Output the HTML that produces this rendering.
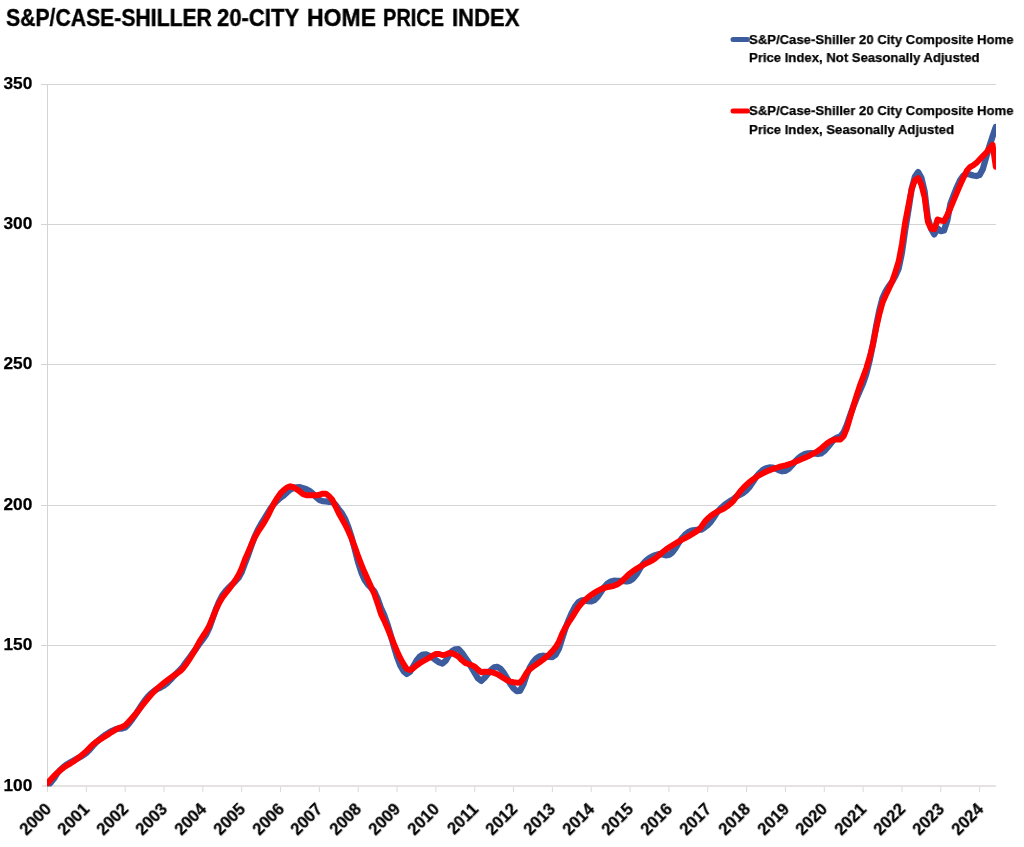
<!DOCTYPE html>
<html><head><meta charset="utf-8"><style>
html,body{margin:0;padding:0;background:#fff;}
body{width:1024px;height:847px;overflow:hidden;position:relative;font-family:"Liberation Sans",sans-serif;font-weight:bold;color:#000;}
.t,.lg,.yl,.xl{will-change:transform;-webkit-text-stroke:0.25px #000;}
.t{-webkit-text-stroke:0.4px #000;}
.t{position:absolute;left:6px;top:3.2px;font-size:24.6px;line-height:30px;white-space:nowrap;transform-origin:0 0;transform:scaleX(0.886);}
.lg{position:absolute;left:748.8px;font-size:13.7px;line-height:16px;white-space:nowrap;transform-origin:0 0;transform:scaleX(0.958);}
.yl{position:absolute;left:0px;width:32.3px;text-align:right;font-size:17.3px;line-height:24px;}
.xl{position:absolute;width:60px;text-align:right;font-size:16.4px;line-height:20px;transform-origin:100% 50%;transform:rotate(-45deg);}
svg{position:absolute;left:0;top:0;}
</style></head><body>
<svg width="1024" height="847" viewBox="0 0 1024 847">
<defs><clipPath id="pc"><rect x="47" y="80" width="949" height="706.5"/></clipPath></defs>
<rect x="47" y="84" width="949" height="1" fill="#d4d4d4"/><rect x="47" y="224" width="949" height="1" fill="#d4d4d4"/><rect x="47" y="364" width="949" height="1" fill="#d4d4d4"/><rect x="47" y="505" width="949" height="1" fill="#d4d4d4"/><rect x="47" y="645" width="949" height="1" fill="#d4d4d4"/><rect x="41" y="84" width="6" height="1" fill="#d4d4d4"/><rect x="41" y="224" width="6" height="1" fill="#d4d4d4"/><rect x="41" y="364" width="6" height="1" fill="#d4d4d4"/><rect x="41" y="505" width="6" height="1" fill="#d4d4d4"/><rect x="41" y="645" width="6" height="1" fill="#d4d4d4"/>
<rect x="47" y="84" width="1" height="702" fill="#d4d4d4"/>
<rect x="47.00" y="785" width="1" height="7" fill="#d9d9d9"/><rect x="85.84" y="785" width="1" height="7" fill="#d9d9d9"/><rect x="124.68" y="785" width="1" height="7" fill="#d9d9d9"/><rect x="163.51" y="785" width="1" height="7" fill="#d9d9d9"/><rect x="202.35" y="785" width="1" height="7" fill="#d9d9d9"/><rect x="241.19" y="785" width="1" height="7" fill="#d9d9d9"/><rect x="280.03" y="785" width="1" height="7" fill="#d9d9d9"/><rect x="318.87" y="785" width="1" height="7" fill="#d9d9d9"/><rect x="357.70" y="785" width="1" height="7" fill="#d9d9d9"/><rect x="396.54" y="785" width="1" height="7" fill="#d9d9d9"/><rect x="435.38" y="785" width="1" height="7" fill="#d9d9d9"/><rect x="474.22" y="785" width="1" height="7" fill="#d9d9d9"/><rect x="513.06" y="785" width="1" height="7" fill="#d9d9d9"/><rect x="551.89" y="785" width="1" height="7" fill="#d9d9d9"/><rect x="590.73" y="785" width="1" height="7" fill="#d9d9d9"/><rect x="629.57" y="785" width="1" height="7" fill="#d9d9d9"/><rect x="668.41" y="785" width="1" height="7" fill="#d9d9d9"/><rect x="707.25" y="785" width="1" height="7" fill="#d9d9d9"/><rect x="746.08" y="785" width="1" height="7" fill="#d9d9d9"/><rect x="784.92" y="785" width="1" height="7" fill="#d9d9d9"/><rect x="823.76" y="785" width="1" height="7" fill="#d9d9d9"/><rect x="862.60" y="785" width="1" height="7" fill="#d9d9d9"/><rect x="901.44" y="785" width="1" height="7" fill="#d9d9d9"/><rect x="940.27" y="785" width="1" height="7" fill="#d9d9d9"/><rect x="979.11" y="785" width="1" height="7" fill="#d9d9d9"/>
<rect x="42" y="785" width="954" height="2" fill="#e6e2e2"/>
<g clip-path="url(#pc)" fill="none" stroke-linejoin="round" stroke-linecap="round">
<path d="M47.50,786.00 L50.74,782.60 L53.97,778.60 L57.21,773.35 L60.45,769.75 L63.68,766.74 L66.92,764.38 L70.16,762.46 L73.39,760.63 L76.63,758.88 L79.87,757.19 L83.10,755.31 L86.34,752.90 L89.57,749.74 L92.81,745.92 L96.05,742.52 L99.28,739.61 L102.52,736.96 L105.76,734.61 L108.99,732.57 L112.23,730.77 L115.47,729.33 L118.70,728.64 L121.94,728.48 L125.18,727.52 L128.41,724.21 L131.65,720.08 L134.89,715.42 L138.12,710.54 L141.36,705.55 L144.59,700.79 L147.83,696.82 L151.07,693.49 L154.30,690.81 L157.54,688.90 L160.78,687.34 L164.01,685.44 L167.25,682.94 L170.49,679.84 L173.72,676.26 L176.96,672.94 L180.20,669.75 L183.43,665.95 L186.67,661.47 L189.91,657.12 L193.14,652.67 L196.38,648.26 L199.62,643.50 L202.85,639.33 L206.09,634.71 L209.32,628.00 L212.56,618.72 L215.80,609.51 L219.03,601.63 L222.27,595.51 L225.51,591.24 L228.74,587.74 L231.98,584.46 L235.22,581.43 L238.45,577.94 L241.69,572.13 L244.93,563.43 L248.16,555.04 L251.40,545.62 L254.64,536.79 L257.87,529.76 L261.11,523.94 L264.35,518.76 L267.58,513.53 L270.82,508.06 L274.06,503.79 L277.29,500.53 L280.53,497.68 L283.76,495.36 L287.00,492.37 L290.24,489.57 L293.47,488.14 L296.71,487.44 L299.95,487.14 L303.18,488.16 L306.42,489.33 L309.66,490.96 L312.89,493.72 L316.13,497.15 L319.37,500.00 L322.60,501.12 L325.84,501.45 L329.08,501.92 L332.31,501.99 L335.55,504.94 L338.78,509.31 L342.02,513.49 L345.26,519.38 L348.49,527.63 L351.73,537.73 L354.97,550.07 L358.20,562.61 L361.44,572.64 L364.68,579.92 L367.91,584.56 L371.15,587.92 L374.39,591.62 L377.62,598.56 L380.86,607.72 L384.10,614.77 L387.33,624.01 L390.57,634.71 L393.81,646.15 L397.04,656.85 L400.28,665.50 L403.51,671.03 L406.75,673.93 L409.99,671.84 L413.22,666.49 L416.46,660.77 L419.70,656.56 L422.93,654.54 L426.17,654.43 L429.41,655.79 L432.64,657.76 L435.88,660.07 L439.12,662.38 L442.35,663.50 L445.59,660.89 L448.83,655.37 L452.06,651.28 L455.30,649.28 L458.54,649.26 L461.77,652.60 L465.01,657.37 L468.25,661.92 L471.48,667.42 L474.72,672.99 L477.95,678.30 L481.19,680.90 L484.43,678.01 L487.66,674.06 L490.90,670.21 L494.14,667.43 L497.37,666.84 L500.61,668.87 L503.85,673.00 L507.08,678.46 L510.32,683.84 L513.56,688.36 L516.79,690.99 L520.03,690.80 L523.27,684.64 L526.50,675.19 L529.74,667.63 L532.97,662.35 L536.21,658.51 L539.45,656.27 L542.68,655.74 L545.92,656.11 L549.16,656.96 L552.39,656.99 L555.63,654.61 L558.87,648.76 L562.10,638.44 L565.34,628.53 L568.58,620.20 L571.81,612.88 L575.05,606.59 L578.29,602.27 L581.52,600.44 L584.76,600.18 L588.00,601.15 L591.23,601.47 L594.47,600.10 L597.71,596.78 L600.94,591.99 L604.18,587.08 L607.41,583.68 L610.65,581.51 L613.89,580.74 L617.12,580.87 L620.36,580.93 L623.60,581.17 L626.83,581.48 L630.07,580.61 L633.31,578.32 L636.54,574.27 L639.78,568.88 L643.02,563.94 L646.25,560.54 L649.49,558.04 L652.73,556.23 L655.96,554.93 L659.20,554.05 L662.43,554.42 L665.67,555.29 L668.91,554.90 L672.14,552.60 L675.38,548.43 L678.62,542.97 L681.85,538.31 L685.09,534.78 L688.33,532.17 L691.56,530.63 L694.80,530.03 L698.04,529.76 L701.27,529.72 L704.51,527.52 L707.75,524.98 L710.98,521.51 L714.22,516.93 L717.46,511.85 L720.69,508.44 L723.93,505.58 L727.16,503.05 L730.40,500.88 L733.64,498.91 L736.87,496.16 L740.11,494.56 L743.35,492.93 L746.58,490.30 L749.82,486.58 L753.06,481.82 L756.29,476.78 L759.53,473.02 L762.77,470.10 L766.00,468.24 L769.24,467.49 L772.48,467.65 L775.71,468.55 L778.95,470.26 L782.19,471.23 L785.42,470.85 L788.66,468.86 L791.89,465.45 L795.13,461.48 L798.37,458.33 L801.60,455.80 L804.84,454.15 L808.08,453.36 L811.31,453.18 L814.55,453.38 L817.79,453.98 L821.02,453.46 L824.26,451.05 L827.50,447.47 L830.73,443.49 L833.97,439.50 L837.21,437.56 L840.44,436.23 L843.68,432.36 L846.92,424.77 L850.15,415.29 L853.39,406.30 L856.62,398.28 L859.86,390.85 L863.10,383.36 L866.33,373.68 L869.57,360.79 L872.81,344.96 L876.04,326.70 L879.28,310.53 L882.52,298.09 L885.75,291.12 L888.99,286.04 L892.23,281.47 L895.46,275.70 L898.70,268.47 L901.94,252.68 L905.17,230.00 L908.41,210.28 L911.65,189.12 L914.88,176.86 L918.12,172.05 L921.36,177.75 L924.59,191.29 L927.83,218.29 L931.06,228.69 L934.30,234.34 L937.54,228.39 L940.77,231.19 L944.01,230.53 L947.25,220.59 L950.48,203.50 L953.72,195.00 L956.96,187.00 L960.19,180.00 L963.43,175.50 L966.67,174.00 L969.90,174.50 L973.14,175.50 L976.38,176.00 L979.61,175.00 L982.85,169.00 L986.09,157.50 L989.32,146.50 L992.56,136.50 L995.79,127.00" stroke="#3d5c9e" stroke-width="6.3"/>
<path d="M47.50,783.20 L50.74,779.44 L53.97,776.00 L57.21,772.89 L60.45,770.06 L63.68,767.59 L66.92,765.55 L70.16,763.62 L73.39,761.49 L76.63,759.20 L79.87,756.71 L83.10,753.99 L86.34,751.08 L89.57,747.90 L92.81,744.55 L96.05,742.02 L99.28,739.95 L102.52,737.89 L105.76,735.88 L108.99,733.88 L112.23,731.76 L115.47,729.70 L118.70,728.08 L121.94,726.94 L125.18,725.39 L128.41,722.03 L131.65,718.44 L134.89,714.81 L138.12,710.99 L141.36,706.80 L144.59,702.55 L147.83,698.60 L151.07,694.80 L154.30,691.29 L157.54,688.21 L160.78,685.46 L164.01,682.85 L167.25,680.33 L170.49,677.92 L173.72,675.56 L176.96,673.45 L180.20,671.15 L183.43,667.88 L186.67,663.41 L189.91,658.56 L193.14,653.21 L196.38,647.47 L199.62,641.27 L202.85,636.22 L206.09,631.53 L209.32,625.61 L212.56,617.82 L215.80,610.10 L219.03,603.27 L222.27,597.77 L225.51,593.56 L228.74,589.48 L231.98,585.11 L235.22,580.43 L238.45,575.16 L241.69,568.28 L244.93,559.52 L248.16,552.14 L251.40,544.54 L254.64,537.59 L257.87,531.99 L261.11,527.07 L264.35,522.17 L267.58,516.41 L270.82,509.61 L274.06,503.36 L277.29,497.83 L280.53,493.22 L283.76,490.09 L287.00,487.48 L290.24,486.22 L293.47,487.17 L296.71,489.27 L299.95,491.60 L303.18,494.19 L306.42,495.30 L309.66,495.30 L312.89,495.30 L316.13,495.30 L319.37,494.75 L322.60,493.66 L325.84,493.71 L329.08,496.08 L332.31,499.79 L335.55,506.40 L338.78,513.21 L342.02,518.92 L345.26,524.82 L348.49,531.53 L351.73,538.93 L354.97,547.40 L358.20,556.41 L361.44,564.73 L364.68,572.55 L367.91,579.75 L371.15,586.92 L374.39,594.00 L377.62,603.43 L380.86,613.71 L384.10,620.40 L387.33,627.80 L390.57,635.68 L393.81,643.57 L397.04,651.17 L400.28,658.17 L403.51,663.90 L406.75,668.81 L409.99,670.05 L413.22,668.29 L416.46,665.58 L419.70,663.24 L422.93,661.31 L426.17,659.46 L429.41,657.66 L432.64,655.54 L435.88,653.95 L439.12,653.96 L442.35,655.04 L445.59,654.64 L448.83,653.05 L452.06,653.30 L455.30,654.80 L458.54,656.80 L461.77,660.11 L465.01,662.86 L468.25,663.94 L471.48,665.09 L474.72,666.64 L477.95,669.66 L481.19,672.28 L484.43,671.67 L487.66,671.73 L490.90,672.24 L494.14,672.98 L497.37,674.28 L500.61,676.15 L503.85,678.21 L507.08,680.33 L510.32,681.59 L513.56,682.25 L516.79,682.69 L520.03,682.53 L523.27,678.55 L526.50,672.93 L529.74,669.31 L532.97,666.86 L536.21,664.64 L539.45,662.27 L542.68,659.94 L545.92,657.39 L549.16,654.44 L552.39,651.16 L555.63,647.22 L558.87,641.90 L562.10,633.96 L565.34,627.61 L568.58,622.52 L571.81,617.60 L575.05,612.39 L578.29,607.45 L581.52,603.46 L584.76,600.18 L588.00,597.37 L591.23,594.97 L594.47,592.75 L597.71,590.76 L600.94,589.11 L604.18,587.93 L607.41,587.15 L610.65,586.52 L613.89,585.78 L617.12,584.60 L620.36,582.40 L623.60,579.46 L626.83,576.26 L630.07,573.29 L633.31,570.91 L636.54,568.78 L639.78,566.81 L643.02,565.00 L646.25,563.46 L649.49,561.94 L652.73,560.13 L655.96,557.76 L659.20,555.00 L662.43,552.22 L665.67,549.74 L668.91,547.55 L672.14,545.49 L675.38,543.52 L678.62,541.61 L681.85,539.75 L685.09,538.04 L688.33,536.36 L691.56,534.50 L694.80,532.52 L698.04,530.24 L701.27,526.94 L704.51,522.04 L707.75,518.43 L710.98,515.76 L714.22,513.52 L717.46,511.61 L720.69,510.12 L723.93,508.54 L727.16,506.41 L730.40,503.79 L733.64,500.55 L736.87,496.02 L740.11,491.57 L743.35,487.91 L746.58,484.64 L749.82,481.85 L753.06,479.33 L756.29,477.06 L759.53,475.06 L762.77,473.33 L766.00,471.78 L769.24,470.38 L772.48,469.11 L775.71,467.96 L778.95,466.97 L782.19,466.14 L785.42,465.32 L788.66,464.38 L791.89,463.20 L795.13,461.86 L798.37,460.47 L801.60,459.13 L804.84,457.78 L808.08,456.34 L811.31,454.73 L814.55,452.96 L817.79,451.00 L821.02,448.72 L824.26,445.79 L827.50,443.05 L830.73,441.04 L833.97,439.60 L837.21,439.50 L840.44,439.50 L843.68,436.14 L846.92,428.08 L850.15,417.23 L853.39,406.30 L856.62,395.37 L859.86,385.64 L863.10,377.16 L866.33,368.14 L869.57,357.48 L872.81,344.96 L876.04,328.91 L879.28,314.44 L882.52,302.67 L885.75,295.23 L888.99,288.50 L892.23,281.47 L895.46,271.60 L898.70,261.21 L901.94,244.05 L905.17,222.26 L908.41,205.69 L911.65,189.12 L914.88,180.26 L918.12,178.07 L921.36,184.80 L924.59,197.37 L927.83,221.73 L931.06,228.69 L934.30,229.32 L937.54,219.41 L940.77,220.63 L944.01,221.20 L947.25,215.05 L950.48,207.91 L953.72,200.14 L956.96,192.45 L960.19,184.84 L963.43,177.69 L966.67,170.91 L969.90,167.15 L973.14,165.42 L976.38,162.95 L979.61,159.50 L982.85,156.17 L986.09,152.96 L989.32,148.42 L992.56,144.80 L995.79,166.70" stroke="#ff0000" stroke-width="5.9"/>
</g>
<line x1="733" y1="39.5" x2="747.5" y2="39.5" stroke="#3d5c9e" stroke-width="5" stroke-linecap="round"/>
<line x1="733" y1="111" x2="747.5" y2="111" stroke="#ff0000" stroke-width="5" stroke-linecap="round"/>
</svg>
<div class="t" style="left:6.2px;transform:scaleX(0.861)">S&amp;P/CASE-SHILLER</div><div class="t" style="left:217.4px;transform:scaleX(0.897)">20-CITY</div><div class="t" style="left:306.6px;transform:scaleX(0.934)">HOME</div><div class="t" style="left:383.2px;transform:scaleX(0.811)">PRICE</div><div class="t" style="left:451.8px;transform:scaleX(0.898)">INDEX</div>
<div class="lg" style="top:32px">S&amp;P/Case-Shiller 20 City Composite Home</div>
<div class="lg" style="top:50.2px">Price Index, Not Seasonally Adjusted</div>
<div class="lg" style="top:103.2px">S&amp;P/Case-Shiller 20 City Composite Home</div>
<div class="lg" style="top:121.6px">Price Index, Seasonally Adjusted</div>
<div class="yl" style="top:71.3px">350</div><div class="yl" style="top:211.3px">300</div><div class="yl" style="top:351.3px">250</div><div class="yl" style="top:491.8px">200</div><div class="yl" style="top:632.3px">150</div><div class="yl" style="top:772.8px">100</div>
<div class="xl" style="left:-12.40px;top:795.9px">2000</div><div class="xl" style="left:26.44px;top:795.9px">2001</div><div class="xl" style="left:65.28px;top:795.9px">2002</div><div class="xl" style="left:104.11px;top:795.9px">2003</div><div class="xl" style="left:142.95px;top:795.9px">2004</div><div class="xl" style="left:181.79px;top:795.9px">2005</div><div class="xl" style="left:220.63px;top:795.9px">2006</div><div class="xl" style="left:259.47px;top:795.9px">2007</div><div class="xl" style="left:298.30px;top:795.9px">2008</div><div class="xl" style="left:337.14px;top:795.9px">2009</div><div class="xl" style="left:375.98px;top:795.9px">2010</div><div class="xl" style="left:414.82px;top:795.9px">2011</div><div class="xl" style="left:453.66px;top:795.9px">2012</div><div class="xl" style="left:492.49px;top:795.9px">2013</div><div class="xl" style="left:531.33px;top:795.9px">2014</div><div class="xl" style="left:570.17px;top:795.9px">2015</div><div class="xl" style="left:609.01px;top:795.9px">2016</div><div class="xl" style="left:647.85px;top:795.9px">2017</div><div class="xl" style="left:686.68px;top:795.9px">2018</div><div class="xl" style="left:725.52px;top:795.9px">2019</div><div class="xl" style="left:764.36px;top:795.9px">2020</div><div class="xl" style="left:803.20px;top:795.9px">2021</div><div class="xl" style="left:842.04px;top:795.9px">2022</div><div class="xl" style="left:880.87px;top:795.9px">2023</div><div class="xl" style="left:919.71px;top:795.9px">2024</div>
</body></html>
